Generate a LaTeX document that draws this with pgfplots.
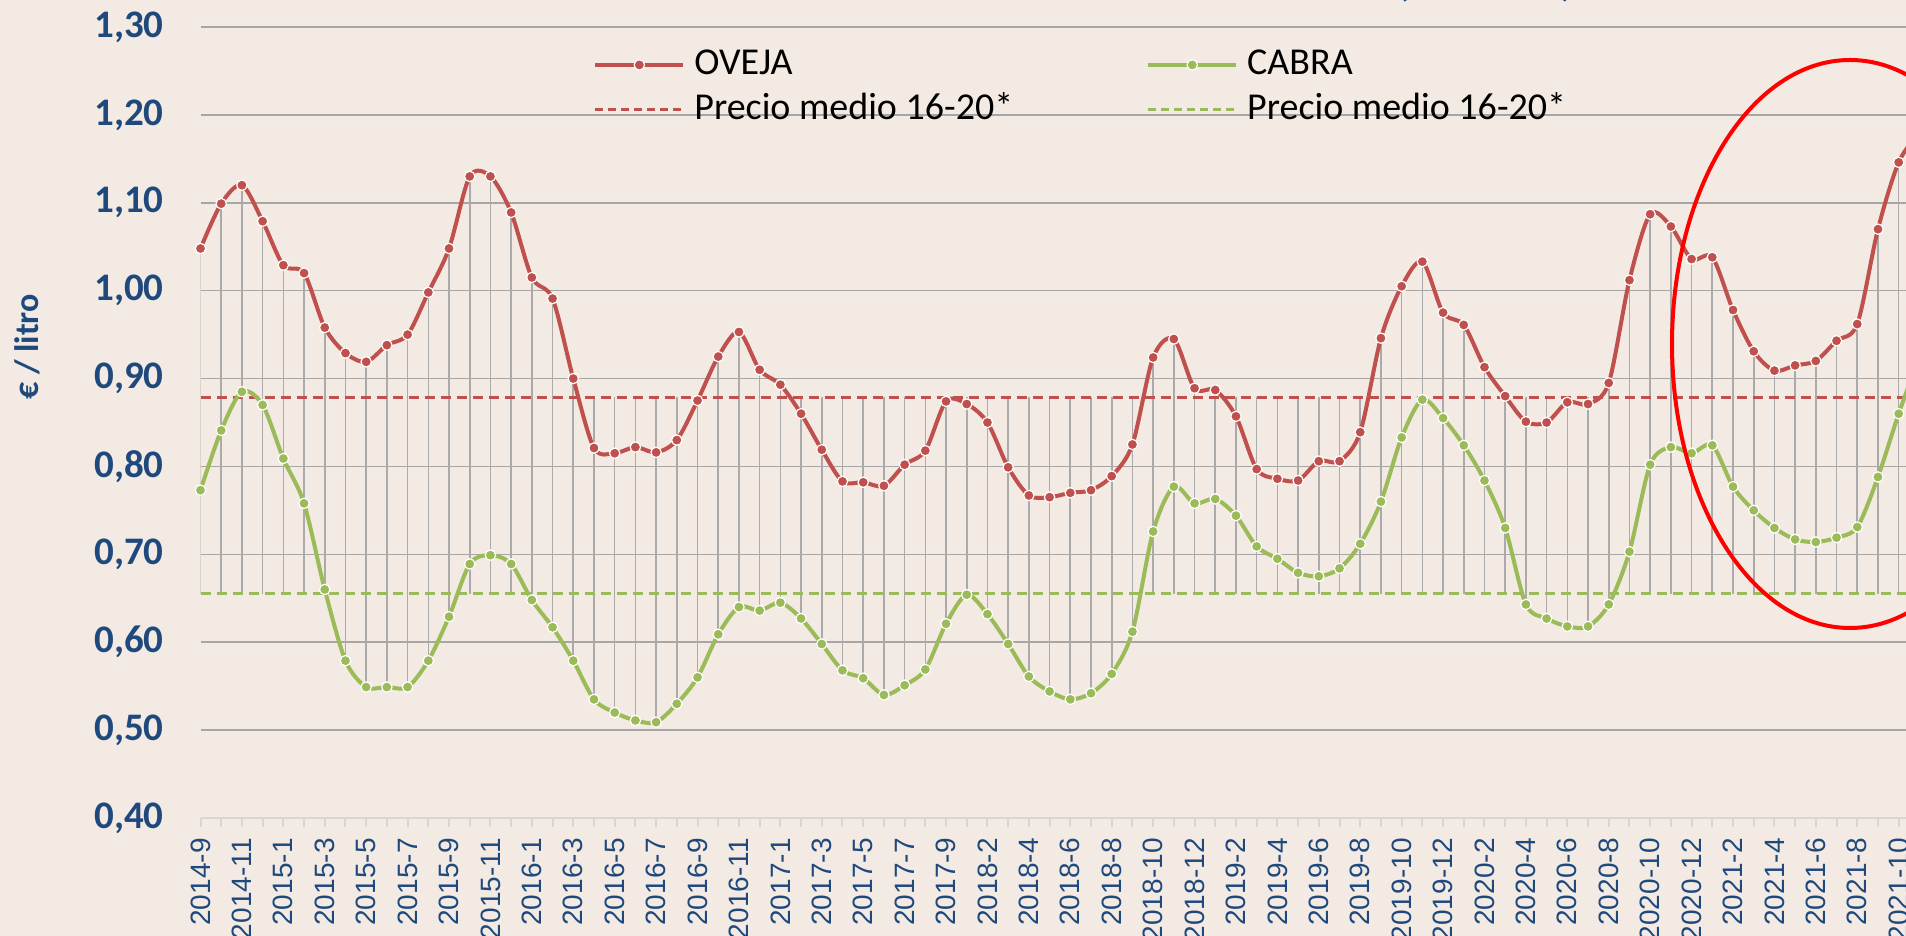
\documentclass[border=0pt]{standalone}
\usepackage{pgfplots}
\pgfplotsset{compat=1.18}
\usepackage{pgfplotstable}
\usepackage{fontspec}
\setmainfont{Carlito}
\newfontfamily\arialfont{Liberation Sans}
\definecolor{ovejared}{RGB}{192,80,77}
\definecolor{cabragreen}{RGB}{155,187,89}
\definecolor{txtblue}{RGB}{31,73,125}
\definecolor{bgbeige}{RGB}{243,235,227}
\definecolor{gridgrey}{RGB}{166,166,166}
\definecolor{dropgrey}{RGB}{170,170,170}
\definecolor{axislight}{RGB}{214,214,214}

\pgfplotstableread{
i oveja cabra
0 1.048 0.773
1 1.099 0.841
2 1.120 0.885
3 1.079 0.870
4 1.029 0.809
5 1.020 0.758
6 0.958 0.660
7 0.929 0.579
8 0.919 0.549
9 0.938 0.549
10 0.950 0.549
11 0.998 0.579
12 1.048 0.629
13 1.130 0.689
14 1.130 0.699
15 1.089 0.689
16 1.015 0.648
17 0.991 0.617
18 0.900 0.579
19 0.821 0.535
20 0.815 0.520
21 0.822 0.511
22 0.816 0.509
23 0.830 0.530
24 0.875 0.560
25 0.925 0.609
26 0.953 0.640
27 0.910 0.636
28 0.893 0.645
29 0.860 0.627
30 0.819 0.598
31 0.783 0.568
32 0.782 0.559
33 0.778 0.540
34 0.802 0.551
35 0.818 0.569
36 0.874 0.621
37 0.871 0.654
38 0.850 0.632
39 0.799 0.598
40 0.767 0.561
41 0.765 0.544
42 0.770 0.535
43 0.773 0.542
44 0.789 0.564
45 0.825 0.612
46 0.924 0.726
47 0.945 0.777
48 0.889 0.758
49 0.887 0.763
50 0.857 0.744
51 0.797 0.709
52 0.786 0.695
53 0.784 0.679
54 0.806 0.675
55 0.806 0.684
56 0.839 0.712
57 0.946 0.760
58 1.005 0.833
59 1.033 0.876
60 0.975 0.855
61 0.961 0.824
62 0.913 0.784
63 0.880 0.730
64 0.851 0.643
65 0.850 0.627
66 0.873 0.618
67 0.871 0.618
68 0.895 0.643
69 1.012 0.703
70 1.087 0.802
71 1.073 0.822
72 1.036 0.815
73 1.038 0.824
74 0.978 0.777
75 0.931 0.750
76 0.909 0.730
77 0.915 0.717
78 0.920 0.714
79 0.943 0.719
80 0.962 0.731
81 1.070 0.788
82 1.146 0.860
83 1.180 0.925
}\data

\begin{document}
\begin{tikzpicture}
\useasboundingbox (0pt,0pt) rectangle (953pt,468pt);
\clip (0pt,0pt) rectangle (953pt,468pt);
\fill[bgbeige] (0pt,0pt) rectangle (953pt,468pt);
% partially visible title (only the bottom of the parentheses is in view)
\node[anchor=south, inner sep=0pt, text=txtblue, font=\bfseries\fontsize{22}{26}\selectfont] at (701.5pt,466.5pt) {(};
\node[anchor=south, inner sep=0pt, text=txtblue, font=\bfseries\fontsize{22}{26}\selectfont] at (783.5pt,466.5pt) {)};
\begin{axis}[
  at={(100.25pt,59pt)}, anchor=south west,
  scale only axis, width=869.8pt, height=395.5pt,
  xmin=0, xmax=84, ymin=0.4, ymax=1.3,
  axis x line*=bottom, axis y line*=left,
  x axis line style={draw=axislight, line width=1pt, -},
  y axis line style={draw=none},
  xtick={0,2,...,82},
  minor xtick={1,3,...,83},
  xticklabels={2014-9,2014-11,2015-1,2015-3,2015-5,2015-7,2015-9,2015-11,2016-1,2016-3,2016-5,2016-7,2016-9,2016-11,2017-1,2017-3,2017-5,2017-7,2017-9,2018-2,2018-4,2018-6,2018-8,2018-10,2018-12,2019-2,2019-4,2019-6,2019-8,2019-10,2019-12,2020-2,2020-4,2020-6,2020-8,2020-10,2020-12,2021-2,2021-4,2021-6,2021-8,2021-10},
  tick align=outside, xtick pos=bottom, ytick pos=left,
  major tick length=4.5pt, minor tick length=4.5pt,
  xtick style={draw=axislight, line width=1pt},
  minor x tick style={draw=axislight, line width=1pt},
  ytick style={draw=none},
  xticklabel style={rotate=90, anchor=east, inner sep=0pt, text=txtblue, font=\arialfont\fontsize{14}{16}\selectfont},
  xticklabel shift=5.5pt,
  ytick={0.5,0.6,0.7,0.8,0.9,1.0,1.1,1.2,1.3},
  extra y ticks={0.4},
  extra y tick style={grid=none},
  ymajorgrids,
  major grid style={draw=gridgrey, line width=0.75pt},
  yticklabel style={anchor=east, inner sep=0pt, text=txtblue, font=\bfseries\fontsize{19.5}{22}\selectfont,
    /pgf/number format/.cd, fixed, fixed zerofill, precision=2, use comma, assume math mode=true},
  yticklabel shift=13.75pt,
  ylabel={€ / litro},
  every axis y label/.style={at={(axis description cs:-0.0997,0.5955)}, rotate=90, anchor=center,
    text=txtblue, font=\bfseries\fontsize{17}{20}\selectfont},
  legend columns=2,
  legend image code/.code={\draw[mark repeat=2, mark phase=2, #1] plot coordinates {(0pt,0pt) (22pt,0pt) (44pt,0pt)};},
  legend style={draw=none, fill=none, at={(axis description cs:0.2256,0.9747)}, anchor=north west,
    inner sep=0pt, row sep=5pt, font=\fontsize{19}{22}\selectfont,
    nodes={inner xsep=4.5pt, inner ysep=0pt, text height=13.5pt, text depth=4pt},
    /tikz/every even column/.append style={column sep=62pt}},
  legend cell align=left,
]
% high-low lines between the series
\addplot[draw=none, mark=none, forget plot,
  error bars/.cd, y dir=plus, y explicit, error mark=none,
  error bar style={draw=dropgrey, line width=0.8pt, solid}]
  table[x=i, y expr={min(\thisrow{cabra},0.655)}, y error expr={max(\thisrow{oveja},0.879)-min(\thisrow{cabra},0.655)}] {\data};
% average lines
\addplot[forget plot, ovejared, line width=1.5pt, dash pattern=on 5pt off 3pt] coordinates {(0,0.879) (84,0.879)};
\addplot[forget plot, cabragreen, line width=1.5pt, dash pattern=on 5pt off 3pt] coordinates {(0,0.655) (84,0.655)};
% series
\addplot[ovejared, line width=2pt, smooth, tension=0.5, mark=*, mark size=2.6pt,
  mark options={solid, fill=ovejared, draw=white, line width=0.6pt}]
  table[x=i, y=oveja] {\data};
\addlegendentry{OVEJA}
\addplot[cabragreen, line width=2pt, smooth, tension=0.5, mark=*, mark size=2.6pt,
  mark options={solid, fill=cabragreen, draw=white, line width=0.6pt}]
  table[x=i, y=cabra] {\data};
\addlegendentry{CABRA}
\addlegendimage{ovejared, line width=1.5pt, dash pattern=on 4pt off 2.5pt}
\addlegendentry{Precio medio 16-20*}
\addlegendimage{cabragreen, line width=1.5pt, dash pattern=on 4pt off 2.5pt}
\addlegendentry{Precio medio 16-20*}
\end{axis}
\draw[red, line width=2pt] (925pt,296pt) ellipse (89pt and 142pt);
\end{tikzpicture}
\end{document}
